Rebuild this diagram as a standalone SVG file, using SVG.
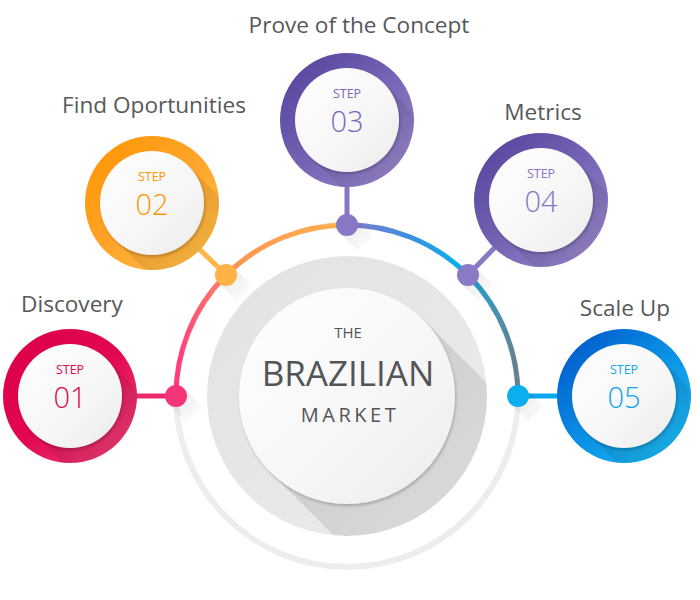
<svg xmlns="http://www.w3.org/2000/svg" width="700" height="600" viewBox="0 0 700 600">
<defs>
<style>
.lbl{font-family:"Open Sans","Noto Sans",sans-serif;font-size:22.6px;fill:#58585a;text-anchor:middle}
.stp{font-family:"Open Sans","Noto Sans",sans-serif;font-size:12.5px;text-anchor:middle}
.num{font-family:"Open Sans","Noto Sans",sans-serif;font-size:29px;font-weight:300;text-anchor:middle}
.ctr{font-family:"Open Sans","Noto Sans",sans-serif;fill:#545456;text-anchor:middle}
.con{stroke-width:5;fill:none}
</style>
<linearGradient id="g1" x1="0" y1="0" x2="1" y2="1"><stop offset="0" stop-color="#dc0048"/><stop offset="0.5" stop-color="#e2074f"/><stop offset="1" stop-color="#ee4a7c"/></linearGradient>
<linearGradient id="g2" x1="0" y1="0" x2="1" y2="1"><stop offset="0" stop-color="#ff9500"/><stop offset="0.5" stop-color="#ffa42a"/><stop offset="1" stop-color="#ffc24a"/></linearGradient>
<linearGradient id="g3" x1="0" y1="0" x2="1" y2="1"><stop offset="0" stop-color="#523f9a"/><stop offset="0.5" stop-color="#7563b4"/><stop offset="1" stop-color="#a08ccf"/></linearGradient>
<linearGradient id="g5" x1="0" y1="0" x2="1" y2="1"><stop offset="0" stop-color="#0050c8"/><stop offset="0.5" stop-color="#0a90e4"/><stop offset="1" stop-color="#20c0f4"/></linearGradient>
<linearGradient id="wh" x1="0" y1="0" x2="1" y2="1"><stop offset="0" stop-color="#ffffff"/><stop offset="0.6" stop-color="#f6f6f6"/><stop offset="1" stop-color="#ebebeb"/></linearGradient>
<linearGradient id="disk" x1="0" y1="0" x2="1" y2="1"><stop offset="0" stop-color="#e2e2e4"/><stop offset="1" stop-color="#ececee"/></linearGradient>
<linearGradient id="ls" x1="0" y1="0" x2="1" y2="1"><stop offset="0" stop-color="#000" stop-opacity="0.12"/><stop offset="1" stop-color="#000" stop-opacity="0"/></linearGradient>
<linearGradient id="lsd" x1="0" y1="0" x2="1" y2="1"><stop offset="0" stop-color="#000" stop-opacity="0.10"/><stop offset="1" stop-color="#000" stop-opacity="0"/></linearGradient>
<linearGradient id="lsr" x1="0" y1="0" x2="1" y2="1"><stop offset="0" stop-color="#000" stop-opacity="0.13"/><stop offset="1" stop-color="#000" stop-opacity="0.02"/></linearGradient>
<linearGradient id="arc" gradientUnits="userSpaceOnUse" x1="176" y1="0" x2="518" y2="0">
<stop offset="0" stop-color="#ff3a80"/><stop offset="0.08" stop-color="#ff6470"/><stop offset="0.18" stop-color="#ff9650"/><stop offset="0.48" stop-color="#ffb24c"/><stop offset="0.5" stop-color="#8a7acc"/><stop offset="0.68" stop-color="#3a8ee2"/><stop offset="0.82" stop-color="#0aaeea"/><stop offset="1" stop-color="#66808e"/></linearGradient>
<clipPath id="ringClip"><circle cx="0" cy="0" r="67"/></clipPath>
<clipPath id="diskClip"><circle cx="347" cy="396" r="140"/></clipPath>
<filter id="ds" x="-20%" y="-20%" width="150%" height="150%"><feDropShadow dx="1" dy="2" stdDeviation="1.5" flood-color="#000" flood-opacity="0.22"/></filter>
</defs>
<rect width="700" height="600" fill="#ffffff"/>

<g id="connectors">
<circle cx="347" cy="396" r="171" fill="none" stroke="#ededee" stroke-width="6"/>
<path d="M176,396 A171,171 0 0 1 518,396" fill="none" stroke="url(#arc)" stroke-width="5"/>
<line class="con" x1="70" y1="396" x2="176" y2="396" stroke="#ea2a68"/>
<line class="con" x1="152" y1="203" x2="226" y2="275" stroke="#ffb545"/>
<line class="con" x1="347" y1="120" x2="347" y2="225" stroke="#8876c4"/>
<line class="con" x1="541" y1="200" x2="468" y2="275" stroke="#8a78c4"/>
<line class="con" x1="624" y1="396" x2="518" y2="396" stroke="#0aa8ec"/>
<g fill="url(#lsd)">
<polygon points="183.8,388.2 201.8,406.2 186.2,421.8 168.2,403.8"/>
<polygon points="233.8,267.2 251.8,285.2 236.2,300.8 218.2,282.8"/>
<polygon points="354.8,217.2 372.8,235.2 357.2,250.8 339.2,232.8"/>
<polygon points="475.8,267.2 493.8,285.2 478.2,300.8 460.2,282.8"/>
<polygon points="525.8,388.2 543.8,406.2 528.2,421.8 510.2,403.8"/>
</g>
<circle cx="176" cy="396" r="11" fill="#f23679"/>
<circle cx="226" cy="275" r="11" fill="#ffb347"/>
<circle cx="347" cy="225" r="11" fill="#8877c4"/>
<circle cx="468" cy="275" r="11" fill="#8a79c5"/>
<circle cx="518" cy="396" r="11" fill="#0aaff0"/>
</g>

<g id="center">
<circle cx="347" cy="396" r="140" fill="url(#disk)"/>
<polygon clip-path="url(#diskClip)" points="423.4,319.6 643.4,539.6 490.6,692.4 270.6,472.4" fill="url(#lsr)"/>
<circle cx="347" cy="396" r="108" fill="url(#wh)" filter="url(#ds)"/>
<text class="ctr" x="348" y="338" font-size="15">THE</text>
<text class="ctr" x="348" y="386" font-size="35">BRAZILIAN</text>
<text class="ctr" x="350" y="422" font-size="20" letter-spacing="3.5">MARKET</text>
</g>

<g id="step01" transform="translate(70,396)">
<circle r="67" fill="url(#g1)"/>
<polygon clip-path="url(#ringClip)" points="36.8,-36.8 136.8,63.2 63.2,136.8 -36.8,36.8" fill="url(#ls)"/>
<circle r="52" fill="url(#wh)" filter="url(#ds)"/>
<text class="stp" y="-22" fill="#e0074e">STEP</text>
<text class="num" y="12" fill="#e0074e">01</text>
</g>
<text class="lbl" x="72" y="312">Discovery</text>

<g id="step02" transform="translate(152,203)">
<circle r="67" fill="url(#g2)"/>
<polygon clip-path="url(#ringClip)" points="36.8,-36.8 136.8,63.2 63.2,136.8 -36.8,36.8" fill="url(#ls)"/>
<circle r="52" fill="url(#wh)" filter="url(#ds)"/>
<text class="stp" y="-22" fill="#ff9500">STEP</text>
<text class="num" y="12" fill="#ff9500">02</text>
</g>
<text class="lbl" x="154" y="113">Find Oportunities</text>

<g id="step03" transform="translate(347,120)">
<circle r="67" fill="url(#g3)"/>
<polygon clip-path="url(#ringClip)" points="36.8,-36.8 136.8,63.2 63.2,136.8 -36.8,36.8" fill="url(#ls)"/>
<circle r="52" fill="url(#wh)" filter="url(#ds)"/>
<text class="stp" y="-22" fill="#7a68ba">STEP</text>
<text class="num" y="12" fill="#7a68ba">03</text>
</g>
<text class="lbl" x="359" y="33">Prove of the Concept</text>

<g id="step04" transform="translate(541,200)">
<circle r="67" fill="url(#g3)"/>
<polygon clip-path="url(#ringClip)" points="36.8,-36.8 136.8,63.2 63.2,136.8 -36.8,36.8" fill="url(#ls)"/>
<circle r="52" fill="url(#wh)" filter="url(#ds)"/>
<text class="stp" y="-22" fill="#8676c0">STEP</text>
<text class="num" y="12" fill="#8676c0">04</text>
</g>
<text class="lbl" x="543" y="120">Metrics</text>

<g id="step05" transform="translate(624,396)">
<circle r="67" fill="url(#g5)"/>
<polygon clip-path="url(#ringClip)" points="36.8,-36.8 136.8,63.2 63.2,136.8 -36.8,36.8" fill="url(#ls)"/>
<circle r="52" fill="url(#wh)" filter="url(#ds)"/>
<text class="stp" y="-22" fill="#0ca6ea">STEP</text>
<text class="num" y="12" fill="#0ca6ea">05</text>
</g>
<text class="lbl" x="625" y="316">Scale Up</text>
</svg>
